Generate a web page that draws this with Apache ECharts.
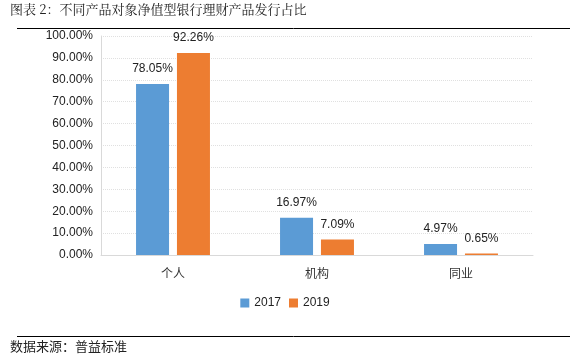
<!DOCTYPE html>
<html><head><meta charset="utf-8">
<script src="https://cdn.jsdelivr.net/npm/echarts@6/dist/echarts.min.js"></script>
<style>html,body{margin:0;padding:0;background:#fff;}#c{width:570px;height:359px;}</style>
</head><body><div id="c"></div>
<script>
const categories = ['个人', '机构', '同业'];
const seriesNames = ['2017', '2019'];
const values2017 = [78.05, 16.97, 4.97];
const values2019 = [92.26, 7.09, 0.65];
const yTicks = [0, 10, 20, 30, 40, 50, 60, 70, 80, 90, 100];

const chart = echarts.init(document.getElementById('c'), null, {renderer: 'canvas'});
const labelFmt = p => p.value.toFixed(2) + '%';
chart.setOption({
  animation: false,
  textStyle: {fontFamily: 'Arial, "Noto Sans CJK SC", sans-serif'},
  graphic: [
    {type: 'text', left: 10, top: 3, style: {text: '图表 2：不同产品对象净值型银行理财产品发行占比', font: '13px "Noto Serif CJK SC", "Noto Sans CJK SC", serif', fill: '#222'}},
    {type: 'line', shape: {x1: 17, y1: 28.5, x2: 570, y2: 28.5}, style: {stroke: '#000', lineWidth: 1}},
    {type: 'line', shape: {x1: 17, y1: 336.5, x2: 570, y2: 336.5}, style: {stroke: '#000', lineWidth: 1}},
    {type: 'text', left: 10, top: 340, style: {text: '数据来源：普益标准', font: '13px "Noto Sans CJK SC", sans-serif', fill: '#222'}}
  ],
  grid: {left: 101, right: 37, top: 36, bottom: 104, containLabel: false},
  legend: {
    data: seriesNames, bottom: 45, left: 'center', itemWidth: 9, itemHeight: 9, itemGap: 8,
    icon: 'rect', textStyle: {fontSize: 12, color: '#222', fontFamily: 'Arial'}
  },
  xAxis: {
    type: 'category', data: categories,
    axisLine: {lineStyle: {color: '#d9d9d9'}}, axisTick: {show: false},
    axisLabel: {fontSize: 12, color: '#333', margin: 12, fontFamily: '"Noto Sans CJK SC"'}
  },
  yAxis: {
    type: 'value', min: 0, max: 100, interval: 10,
    axisLine: {show: true, lineStyle: {color: '#d9d9d9'}}, axisTick: {show: false},
    splitLine: {lineStyle: {color: '#e0e0e0', type: 'dotted'}},
    axisLabel: {fontSize: 12, color: '#222', margin: 8, formatter: v => yTicks.includes(v) ? v.toFixed(2) + '%' : ''}
  },
  series: [
    {name: seriesNames[0], type: 'bar', data: values2017, barWidth: 33, barGap: '24%',
     itemStyle: {color: '#5B9BD5'}, label: {show: true, position: 'top', formatter: labelFmt, fontSize: 12, color: '#222', distance: 9}},
    {name: seriesNames[1], type: 'bar', data: values2019, barWidth: 33,
     itemStyle: {color: '#ED7D31'}, label: {show: true, position: 'top', formatter: labelFmt, fontSize: 12, color: '#222', distance: 9}}
  ]
});
</script></body></html>
